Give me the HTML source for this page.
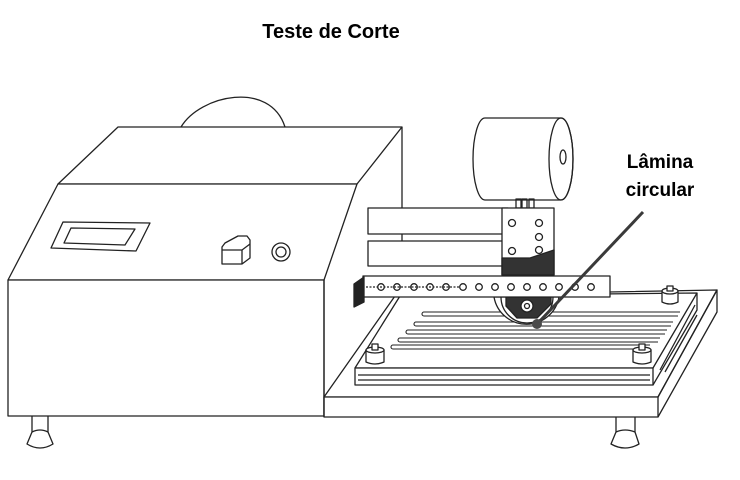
<!DOCTYPE html>
<html><head><meta charset="utf-8"><style>
html,body{margin:0;padding:0;background:#fff;width:740px;height:480px;overflow:hidden}
svg{display:block}
text{font-family:"Liberation Sans",sans-serif;font-weight:bold;fill:#000}
</style></head><body>
<svg width="740" height="480" viewBox="0 0 740 480" fill="none" stroke="#222" stroke-width="1.3" stroke-linejoin="round">
<text x="331" y="38" font-size="20" text-anchor="middle" stroke="none">Teste de Corte</text>
<text x="660" y="168" font-size="19" text-anchor="middle" stroke="none">Lâmina</text>
<text x="660" y="196" font-size="19" text-anchor="middle" stroke="none">circular</text>

<!-- hump -->
<path d="M181,127 C200,95 270,80 285,127" fill="#fff"/>
<!-- main box -->
<path d="M118,127 L402,127 L357,184 L58,184 Z" fill="#fff"/>
<path d="M58,184 L357,184 L324,280 L8,280 Z" fill="#fff"/>
<rect x="8" y="280" width="316" height="136" fill="#fff"/>
<line x1="402" y1="127" x2="402" y2="212"/>
<!-- screen -->
<path d="M63,222 L150,223 L136,251 L51,248 Z"/>
<path d="M71,228 L135,229 L125,245 L64,243 Z"/>
<!-- button -->
<path d="M225,243 L238,236 L247,236 L250,240 L250,258 L242,264 L222,264 L222,247 Z" fill="#fff"/>
<path d="M222,250 L242,250 L250,244"/>
<line x1="242" y1="250" x2="242" y2="264"/>
<circle cx="281" cy="252" r="9"/><circle cx="281" cy="252" r="5"/>
<!-- legs -->
<path d="M32,416 L32,432 L27,444 Q40,452 53,444 L48,432 L48,416"/>
<path d="M32,432 Q40,428 48,432"/>
<path d="M616,417 L616,432 L611,444 Q625,452 639,444 L635,432 L635,417"/>
<path d="M616,432 Q625,428 635,432"/>

<!-- base -->
<path d="M324,397 L395,296 L717,290 L658,397 Z" fill="#fff"/>
<rect x="324" y="397" width="334" height="20" fill="#fff"/>
<path d="M658,397 L717,290 L717,312 L658,417"/>
<line x1="324" y1="280" x2="324" y2="417"/>
<!-- plate -->
<path d="M355,368 L400,296 L697,293 L653,368 Z" fill="#fff"/>
<path d="M355,368 L653,368 L653,385 L355,385 Z" fill="#fff"/>
<path d="M653,385 L697,310 L697,293"/>
<line x1="358" y1="375" x2="650" y2="375"/><line x1="358" y1="380" x2="650" y2="380"/>
<line x1="660" y1="370" x2="695" y2="305"/><line x1="665" y1="372" x2="697" y2="315"/>
<!-- slots -->
<g stroke-width="1.1">
<path d="M424,312 L680,312 M424,316 L678,316 M424,312 a2,2 0 0 0 0,4"/>
<path d="M416,322 L673,322 M416,326 L671,326 M416,322 a2,2 0 0 0 0,4"/>
<path d="M408,330 L667,330 M408,334 L665,334 M408,330 a2,2 0 0 0 0,4"/>
<path d="M400,338 L660,338 M400,342 L658,342 M400,338 a2,2 0 0 0 0,4"/>
<path d="M393,345 L650,345 M393,349 L648,349 M393,345 a2,2 0 0 0 0,4"/>
</g>
<!-- knobs -->
<g fill="#fff">
<path d="M366,350 L366,362 Q375,366 384,362 L384,350 Z"/><ellipse cx="375" cy="350" rx="9" ry="3"/><rect x="372" y="344" width="6" height="6"/>
<path d="M633,350 L633,362 Q642,366 651,362 L651,350 Z"/><ellipse cx="642" cy="350" rx="9" ry="3"/><rect x="639" y="344" width="6" height="6"/>
<path d="M662,291 L662,302 Q670,306 678,302 L678,291 Z"/><ellipse cx="670" cy="291" rx="8" ry="3"/><rect x="667" y="286" width="6" height="5"/>
</g>

<!-- blade -->
<path d="M494,297 A33,33 0 0 0 559,297 Z" fill="#fff"/>
<path d="M501,297 A26,26 0 0 0 553,297" fill="none"/>
<path d="M506,297 L551,297 L551,304 L537,318 L517,318 L506,306 Z" fill="#333"/>
<circle cx="527" cy="306" r="6" fill="#fff"/><circle cx="527" cy="306" r="2.5"/>

<!-- motor -->
<path d="M485,118 L561,118 A12,41 0 0 1 561,200 L485,200 A12,41 0 0 1 485,118 Z" fill="#fff"/>
<ellipse cx="561" cy="159" rx="12" ry="41"/>
<ellipse cx="563" cy="157" rx="3" ry="7"/>
<rect x="516" y="199" width="5" height="9"/><rect x="522" y="199" width="5" height="9"/><rect x="529" y="199" width="5" height="9"/>
<!-- rails -->
<rect x="368" y="208" width="140" height="26" fill="#fff"/>
<rect x="368" y="241" width="140" height="25" fill="#fff"/>
<line x1="402" y1="234" x2="402" y2="241"/>
<!-- block -->
<rect x="502" y="208" width="52" height="67" fill="#fff"/>
<path d="M502,258 L530,258 L554,250 L554,275 L502,275 Z" fill="#333"/>
<circle cx="512" cy="223" r="3.5"/><circle cx="539" cy="223" r="3.5"/><circle cx="539" cy="237" r="3.5"/>
<circle cx="512" cy="251" r="3.5"/><circle cx="539" cy="250" r="3.5"/>
<!-- ruler -->
<rect x="363" y="276" width="247" height="21" fill="#fff"/>
<path d="M354,284 L364,277 L364,302 L354,307 Z" fill="#222"/>
<line x1="366" y1="287" x2="460" y2="287" stroke-dasharray="2,1.5"/>
<g>
<circle cx="381" cy="287" r="3.3"/><circle cx="397" cy="287" r="3.3"/><circle cx="414" cy="287" r="3.3"/><circle cx="430" cy="287" r="3.3"/><circle cx="446" cy="287" r="3.3"/>
<circle cx="463" cy="287" r="3.3"/><circle cx="479" cy="287" r="3.3"/><circle cx="495" cy="287" r="3.3"/><circle cx="511" cy="287" r="3.3"/><circle cx="527" cy="287" r="3.3"/>
<circle cx="543" cy="287" r="3.3"/><circle cx="559" cy="287" r="3.3"/><circle cx="575" cy="287" r="3.3"/><circle cx="591" cy="287" r="3.3"/>
</g>
<!-- pointer -->
<line x1="643" y1="212" x2="538" y2="323" stroke="#3a3a3a" stroke-width="3"/>
<circle cx="537" cy="324" r="5" fill="#4a4a4a" stroke="none"/>
</svg>
</body></html>
